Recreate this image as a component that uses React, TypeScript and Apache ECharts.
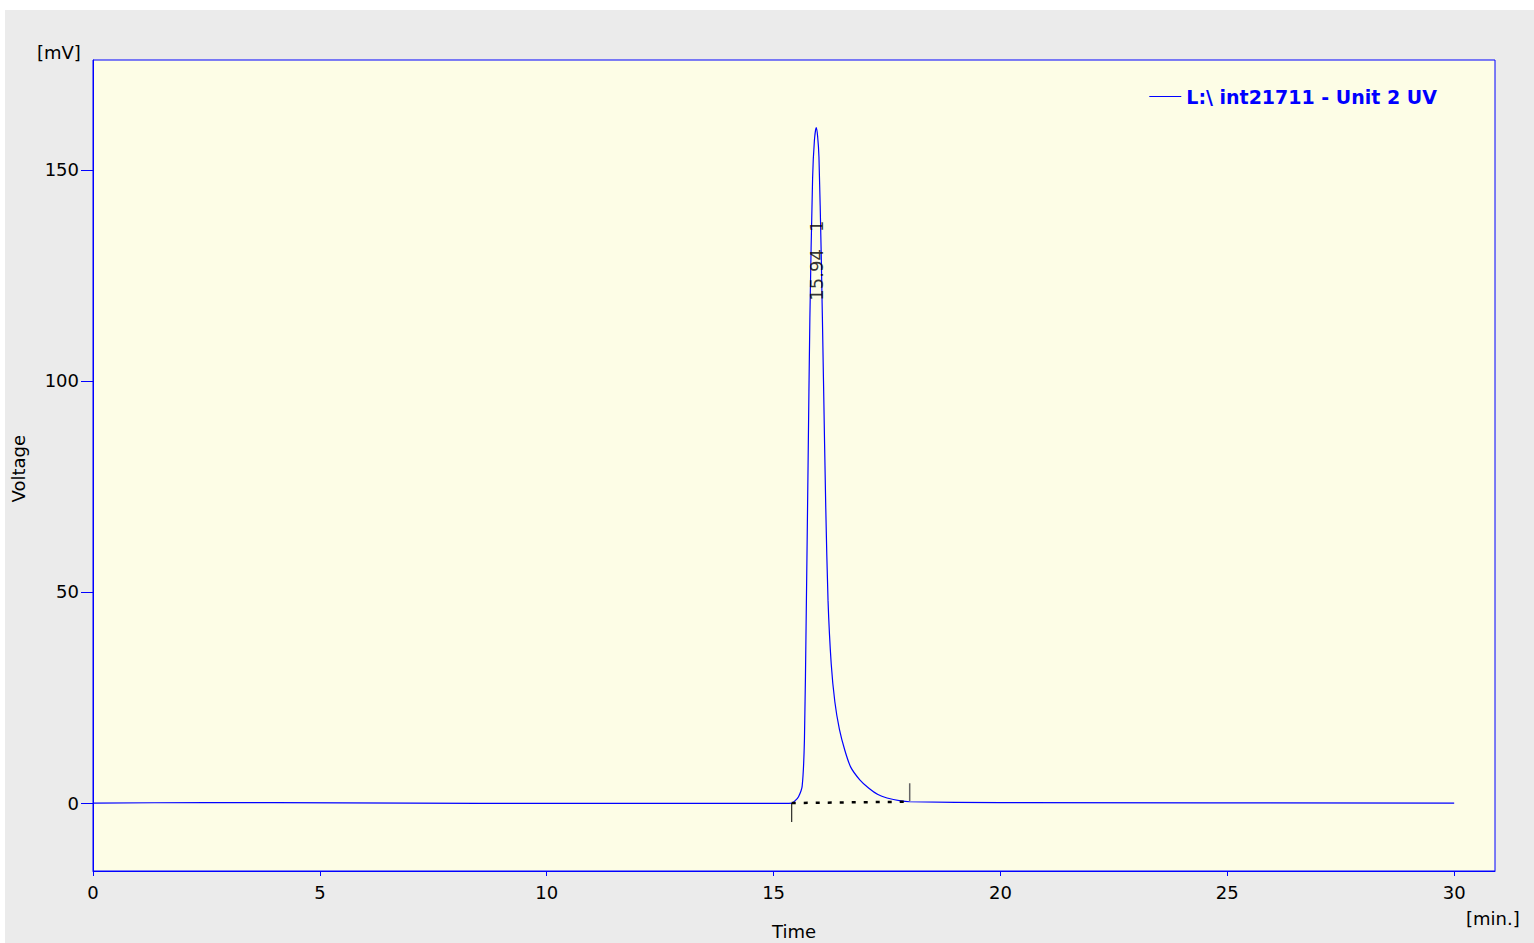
import { useEffect, useRef } from 'react';
import * as echarts from 'echarts';

// retention time (min) and signal (mV)
const times = [0, 2.5, 4, 7, 10, 15, 15.4, 15.47, 15.55, 15.63, 15.68, 15.72, 15.76, 15.8, 15.86, 15.9, 15.94, 15.97, 16.0, 16.05, 16.1, 16.15, 16.2, 16.27, 16.35, 16.45, 16.57, 16.7, 16.9, 17.1, 17.3, 17.5, 17.8, 18, 20, 30];
const volts = [0, 0.1, 0.1, 0, -0.1, -0.1, 0, 0.5, 1.5, 4, 15, 45, 80, 115, 148, 157, 160, 158, 153, 130, 100, 70, 48, 33, 24, 17.5, 12.5, 8.5, 5.5, 3.5, 2, 1.2, 0.5, 0.3, 0.1, 0];
const xTicks = [0, 5, 10, 15, 20, 25, 30];
const yTicks = [0, 50, 100, 150];
const seriesName = 'L:\\ int21711 - Unit 2 UV';
const baseline: [number, number][] = [[15.4, 0], [17.9, 0.3]];
const peakLabel: [number, number] = [15.94, 119];

const FONT = '"DejaVu Sans", Verdana, sans-serif';

const App = () => {
  const ref = useRef<HTMLDivElement>(null);

  useEffect(() => {
    document.body.style.margin = '0';
    if (!ref.current) return;
    const chart = echarts.init(ref.current, undefined, { renderer: 'svg' });
    chart.setOption({
      animation: false,
      backgroundColor: '#ebebeb',
      grid: {
        left: 88, top: 50, width: 1402, height: 811,
        show: true, backgroundColor: '#fdfde6', borderColor: '#0000ff', borderWidth: 1
      },
      legend: {
        top: 72, right: 92, itemWidth: 32, itemHeight: 1, icon: 'rect', itemGap: 8,
        textStyle: { color: '#0000ff', fontWeight: 'bold', fontSize: 19, fontFamily: FONT },
        data: [seriesName]
      },
      xAxis: {
        type: 'value', min: 0, max: 30.9,
        axisLine: { onZero: false, lineStyle: { color: '#0000ff' } },
        axisTick: { customValues: xTicks, length: 5, lineStyle: { color: '#0000ff' } },
        axisLabel: { customValues: xTicks, color: '#000', fontSize: 18, fontFamily: FONT, margin: 12 },
        splitLine: { show: false }
      },
      yAxis: {
        type: 'value', min: -16.1, max: 176,
        axisLine: { show: true, lineStyle: { color: '#0000ff' } },
        axisTick: { show: true, customValues: yTicks, length: 12, lineStyle: { color: '#0000ff' } },
        axisLabel: { customValues: yTicks, color: '#000', fontSize: 18, fontFamily: FONT, margin: 14 },
        splitLine: { show: false }
      },
      graphic: [
        { type: 'text', left: 32, top: 33, style: { text: '[mV]', fill: '#000', font: `18px ${FONT}` } },
        { type: 'text', left: 4, top: 425, rotation: Math.PI / 2, style: { text: 'Voltage', fill: '#000', font: `18px ${FONT}` } },
        { type: 'text', left: 767, top: 912, style: { text: 'Time', fill: '#000', font: `18px ${FONT}` } },
        { type: 'text', left: 1461, top: 899, style: { text: '[min.]', fill: '#000', font: `18px ${FONT}` } }
      ],
      series: [
        {
          name: seriesName, type: 'line', symbol: 'none', smooth: 0.25,
          data: times.map((t, i) => [t, volts[i]]),
          lineStyle: { color: '#0000ff', width: 1.2 }, itemStyle: { color: '#0000ff' }
        },
        {
          name: 'label', type: 'scatter', symbolSize: 1, data: [peakLabel], z: 5,
          itemStyle: { color: 'rgba(0,0,0,0)' },
          label: {
            show: true, position: 'inside', formatter: '15.94   1', rotate: 90, align: 'left', verticalAlign: 'middle',
            color: '#000', fontSize: 18, fontFamily: FONT, textBorderWidth: 0
          }
        },
        {
          name: 'baseline', type: 'line', symbol: 'none', data: baseline,
          lineStyle: { color: '#000', width: 2.5, type: [4, 8] }
        },
        {
          name: 'start', type: 'line', symbol: 'none', data: [[15.4, 0], [15.4, -4.5]],
          lineStyle: { color: '#000', width: 1 }
        },
        {
          name: 'end', type: 'line', symbol: 'none', data: [[18.0, 0.5], [18.0, 4.7]],
          lineStyle: { color: '#666', width: 1.5 }
        }
      ]
    });
    return () => chart.dispose();
  }, []);

  return (
    <div style={{ paddingTop: 10, paddingLeft: 5, background: '#fff' }}>
      <div ref={ref} style={{ width: 1529, height: 933 }} />
    </div>
  );
};

export default App;
